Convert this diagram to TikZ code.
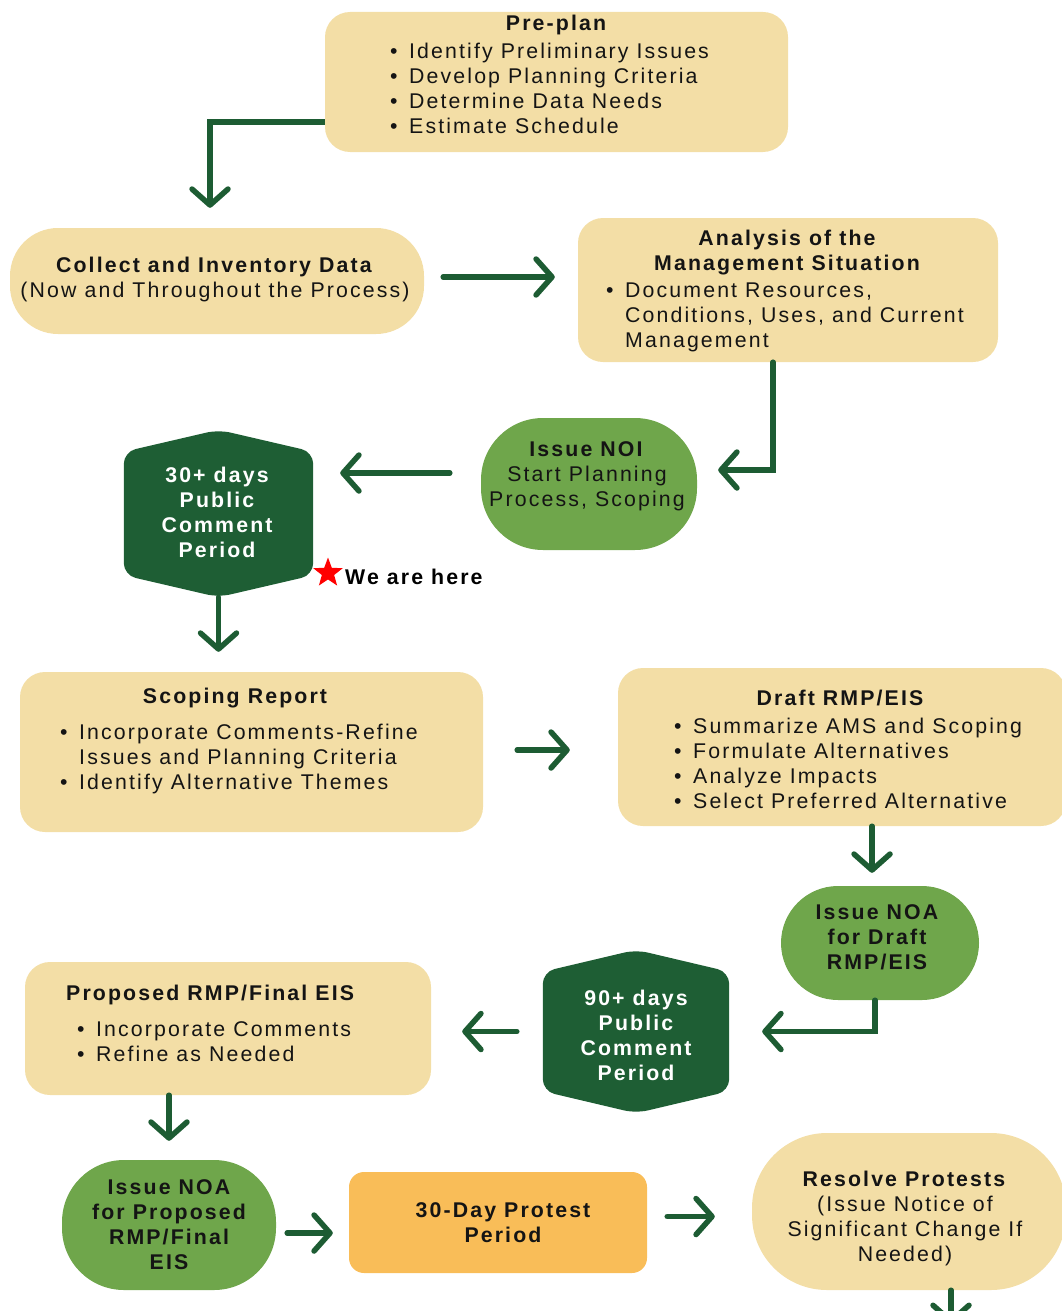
\documentclass[tikz,border=0pt]{standalone}
\usepackage{fontspec}
\setmainfont{Liberation Sans}[LetterSpace=10]
\usetikzlibrary{arrows.meta,shapes.geometric,backgrounds,calc}
\definecolor{beige}{HTML}{F3DEA6}
\definecolor{lgreen}{HTML}{6FA64B}
\definecolor{dgreen}{HTML}{1E5E34}
\definecolor{agreen}{HTML}{1D5C33}
\definecolor{orangebox}{HTML}{F9BD58}
\definecolor{txt}{HTML}{141414}
\newcommand{\bul}{\makebox[19pt][l]{\textbullet}}
\newcommand{\ind}{\hspace*{19pt}}
\newcommand{\hexfill}[1]{%
  \fill[dgreen, rounded corners=12pt] (#1.north) -- ([yshift=-22pt]#1.north east) -- ([yshift=22pt]#1.south east) -- (#1.south) -- ([yshift=22pt]#1.south west) -- ([yshift=-22pt]#1.north west) -- cycle;}
\begin{document}
\begin{tikzpicture}[x=1pt,y=-1pt,
  every node/.style={font=\fontsize{21.3}{25}\selectfont, text=txt, inner sep=0pt},
  box/.style={fill=beige, rounded corners=25pt},
  pill/.style={fill=beige, rounded corners=#1},
  gpill/.style={fill=lgreen, rounded corners=#1},
  ttl/.style={font=\fontsize{21.3}{25}\selectfont\bfseries},
  btxt/.style={anchor=west, align=left},
  ctxt/.style={align=center},
  hextxt/.style={align=center, text=white, font=\fontsize{21.3}{25}\selectfont\bfseries},
  arr/.style={draw=agreen, line width=5.5pt, line cap=round, -{Straight Barb[length=16pt,width=36pt,round]}}
]
\useasboundingbox (0,0) rectangle (1062,1311);

% ---------- boxes ----------
\node[box, minimum width=463pt, minimum height=140pt] (preplan) at (556.5,82) {};
\node[ttl] (preplanT) at (556,25) {Pre-plan};
\node[btxt] (preplanB) at (390,88) {\bul Identify Preliminary Issues\\\bul Develop Planning Criteria\\\bul Determine Data Needs\\\bul Estimate Schedule};

\node[pill=48pt, minimum width=414pt, minimum height=106pt] (collect) at (217,281) {};
\node[ctxt] (collectT) at (215,279) {\textbf{Collect and Inventory Data}\\(Now and Throughout the Process)};

\node[box, minimum width=420pt, minimum height=144pt] (analysis) at (788,290) {};
\node[ctxt, font=\fontsize{21.3}{25}\selectfont\bfseries] (analysisT) at (787,253) {Analysis of the\\Management Situation};
\node[btxt] (analysisB) at (606,317) {\bul Document Resources,\\\ind Conditions, Uses, and Current\\\ind Management};

\node[gpill=62pt, minimum width=216pt, minimum height=132pt] (noi) at (589,484) {};
\node[ctxt] (noiT) at (587,476) {\textbf{Issue NOI}\\Start Planning\\Process, Scoping};

\node[minimum width=189pt, minimum height=167pt] (h30) at (218.5,513.5) {};
\begin{scope}[on background layer]\hexfill{h30}\end{scope}
\node[hextxt] (h30T) at (217,512) {30+ days\\Public\\Comment\\Period};

\node[star, star points=5, star point ratio=2.4, fill=red, minimum size=31pt] (star) at (328,573) {};
\node[anchor=west, font=\fontsize{21.3}{25}\selectfont\bfseries, text=black] (here) at (345,577) {We are here};

\node[box, minimum width=463pt, minimum height=160pt] (scoping) at (251.5,752) {};
\node[ttl] (scopingT) at (235,698) {Scoping Report};
\node[btxt] (scopingB) at (60,759) {\bul Incorporate Comments-Refine\\\ind Issues and Planning Criteria\\\bul Identify Alternative Themes};

\node[box, minimum width=448pt, minimum height=158pt] (draft) at (842,747) {};
\node[ttl] (draftT) at (840,698) {Draft RMP/EIS};
\node[btxt] (draftB) at (674,763) {\bul Summarize AMS and Scoping\\\bul Formulate Alternatives\\\bul Analyze Impacts\\\bul Select Preferred Alternative};

\node[gpill=57pt, minimum width=198pt, minimum height=114pt] (noadraft) at (880,943) {};
\node[ctxt, font=\fontsize{21.3}{25}\selectfont\bfseries] (noadraftT) at (877,937) {Issue NOA\\for Draft\\RMP/EIS};

\node[minimum width=186pt, minimum height=163pt] (h90) at (636,1031.5) {};
\begin{scope}[on background layer]\hexfill{h90}\end{scope}
\node[hextxt] (h90T) at (636,1035) {90+ days\\Public\\Comment\\Period};

\node[box, minimum width=406pt, minimum height=133pt] (proposed) at (228,1028.5) {};
\node[ttl, anchor=west] (proposedT) at (66,995) {Proposed RMP/Final EIS};
\node[btxt] (proposedB) at (77,1042) {\bul Incorporate Comments\\\bul Refine as Needed};

\node[gpill=62pt, minimum width=214pt, minimum height=130pt] (noaprop) at (169,1225) {};
\node[ctxt, font=\fontsize{21.3}{25}\selectfont\bfseries] (noapropT) at (169,1225) {Issue NOA\\for Proposed\\RMP/Final\\EIS};

\node[fill=orangebox, rounded corners=15pt, minimum width=298pt, minimum height=101pt] (protest) at (498,1222.5) {};
\node[ctxt, font=\fontsize{21.3}{25}\selectfont\bfseries] (protestT) at (503,1223) {30-Day Protest\\Period};

\node[pill=75pt, minimum width=314pt, minimum height=157pt] (resolve) at (909,1211.5) {};
\node[ctxt] (resolveT) at (905,1218) {\textbf{Resolve Protests}\\(Issue Notice of\\Significant Change If\\Needed)};

\coordinate (offpage) at (951,1324);

% ---------- connectors ----------
\draw[arr, line cap=butt] ([yshift=-40pt]preplan.west) -| ([xshift=-7pt]collect.north) [shorten >=20pt];
\draw[arr, shorten <=19pt, shorten >=23pt] ([yshift=4pt]collect.east) -- ([yshift=4pt]collect.east -| analysis.west);
\draw[arr] ([xshift=-15pt]analysis.south) |- ([xshift=21pt,yshift=14pt]noi.east);
\draw[arr, shorten <=31pt, shorten >=27pt] ([yshift=11pt]noi.west) -- ([yshift=11pt]noi.west -| h30.east);
\draw[arr, shorten >=20pt] (h30.south) -- (h30.south |- scoping.north);
\draw[arr, shorten <=34pt, shorten >=48pt] ([yshift=2pt]scoping.east) -- ([yshift=2pt]scoping.east -| draft.west);
\draw[arr, shorten >=13pt] ([xshift=-8pt]noadraft.north |- draft.south) -- ([xshift=-8pt]noadraft.north);
\draw[arr, shorten >=33pt] ([xshift=-5pt]noadraft.south) |- (h90.east);
\draw[arr, shorten <=26pt, shorten >=31pt] (h90.west) -- (h90.west -| proposed.east);
\draw[arr, shorten >=19pt] (noaprop.north |- proposed.south) -- (noaprop.north);
\draw[arr, shorten <=11pt, shorten >=16pt] ([yshift=-8pt]noaprop.east) -- ([yshift=-8pt]noaprop.east -| protest.west);
\draw[arr, shorten <=20pt, shorten >=37pt] ([yshift=6pt]protest.east) -- ([yshift=6pt]protest.east -| resolve.west);
\draw[arr] ([xshift=42pt]resolve.south) -- (offpage);
\end{tikzpicture}
\end{document}
